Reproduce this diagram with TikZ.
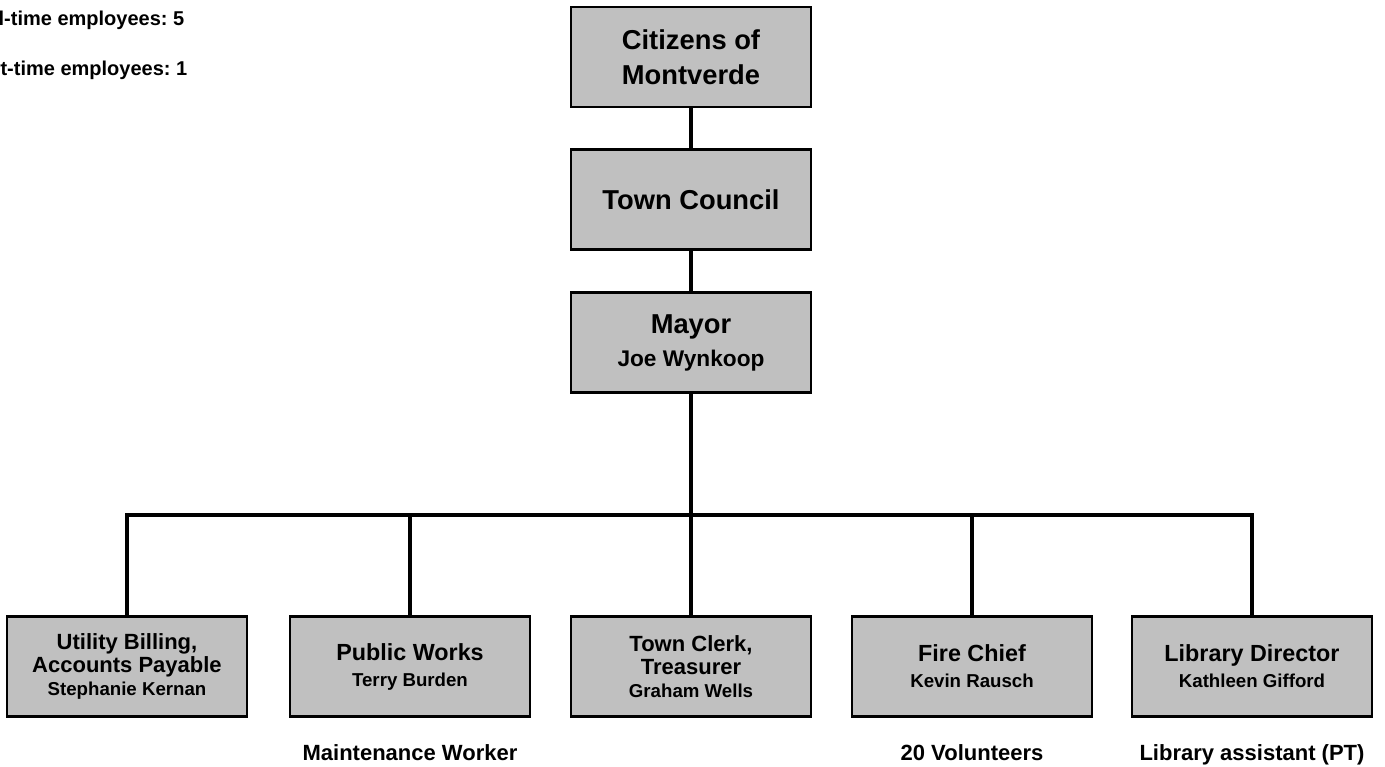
\documentclass[tikz,border=0pt]{standalone}
\usepackage{fontspec}
\setmainfont{Liberation Sans}
\usepackage{xcolor}
\usetikzlibrary{positioning}

\definecolor{boxgray}{RGB}{192,192,192}
\newcommand{\namefont}{\fontsize{14}{17}\selectfont}
\frenchspacing

\begin{document}
\begin{tikzpicture}[
    x=0.75pt, y=-0.75pt,
    post/.style={rectangle, draw, line width=2.2pt, fill=boxgray, minimum width=180pt, minimum height=75pt, align=center, inner sep=2pt},
    head/.style={post, font=\bfseries\fontsize{20.5}{26}\selectfont},
    unit/.style={post, font=\bfseries\fontsize{17.5}{19.5}\selectfont},
    staff/.style={font=\bfseries\fontsize{16.5}{20}\selectfont, anchor=base},
    note/.style={font=\bfseries\fontsize{15}{18}\selectfont, anchor=base east},
    link/.style={line width=3pt}
]
\useasboundingbox (0,0) rectangle (1385,767);

% Headcount
\node[note] (fulltime) at (189,26) {Full-time employees: 5};
\node[note] (parttime) at (192,75) {Part-time employees: 1};

% Top of the chart
\node[head] (citizens) at (691,57) {Citizens of\\Montverde};
\node[head, below=30pt of citizens] (council) {Town Council};
\node[head, below=30pt of council] (mayor) {Mayor\\[-1pt]{\fontsize{17}{20}\selectfont Joe Wynkoop}};

% Departments
\node[unit, font=\bfseries\fontsize{16.5}{17}\selectfont] (billing) at (127,666.5) {Utility Billing,\\Accounts Payable\\{\namefont Stephanie Kernan}};
\node[unit] (works) at (410,666.5) {Public Works\\{\namefont Terry Burden}};
\node[unit, font=\bfseries\fontsize{16.5}{17}\selectfont] (clerk) at (691,666.5) {Town Clerk,\\Treasurer\\{\namefont Graham Wells}};
\node[unit] (fire) at (972,666.5) {Fire Chief\\{\namefont Kevin Rausch}};
\node[unit] (library) at (1252,666.5) {Library Director\\{\namefont Kathleen Gifford}};

% Staff under departments
\node[staff] (worker) at (410,760) {Maintenance Worker};
\node[staff] (volunteers) at (972,760) {20 Volunteers};
\node[staff] (assistant) at (1252,760) {Library assistant (PT)};

% Lines
\coordinate (bus) at (691,515);
\draw[link] (citizens) -- (council);
\draw[link] (council) -- (mayor);
\draw[link] (mayor) -- (bus);
\draw[link] (billing.north) |- (bus) -| (library.north);
\draw[link] (works.north) -- (works.north |- bus);
\draw[link] (clerk.north) -- (bus);
\draw[link] (fire.north) -- (fire.north |- bus);

\end{tikzpicture}
\end{document}
